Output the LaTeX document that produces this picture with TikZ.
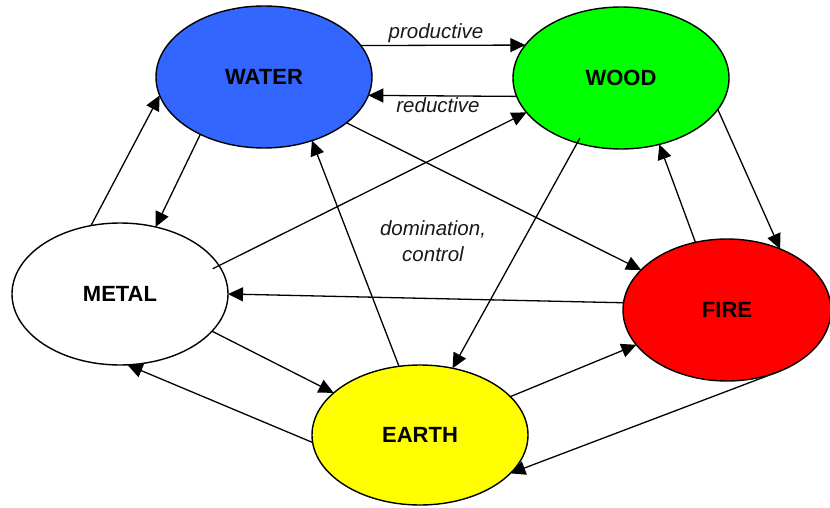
\documentclass[tikz,border=0pt]{standalone}
\usepackage{fontspec}
\setmainfont{Liberation Sans}
\usetikzlibrary{shapes.geometric,arrows.meta}
\definecolor{waterblue}{HTML}{3366FF}
\definecolor{woodgreen}{HTML}{00FF00}
\definecolor{firered}{HTML}{FF0000}
\definecolor{earthyellow}{HTML}{FFFF00}
\begin{document}
\begin{tikzpicture}[x=1pt,y=-1pt,
  elem/.style={ellipse, draw=black, line width=1.4pt, minimum width=216pt,
    minimum height=142pt, inner sep=0pt, outer sep=0pt,
    font=\fontsize{22}{26}\selectfont\bfseries},
  arr/.style={line width=1.3pt, -{Triangle[length=15pt,width=14pt]}},
  lbl/.style={font=\fontsize{20.5}{26}\selectfont\itshape, text=black!90, align=center}]
\useasboundingbox (0,0) rectangle (830,508);
\node[elem, fill=waterblue] (water) at (264,77) {WATER};
\node[elem, fill=woodgreen] (wood) at (621,78) {WOOD};
\node[elem, fill=white] (metal) at (120,294) {METAL};
\node[elem, fill=firered, minimum width=208pt] (fire) at (727,310) {FIRE};
\node[elem, fill=earthyellow, minimum height=140pt] (earth) at (420,435) {EARTH};

\node[lbl] (prod) at (436,33) {productive};
\node[lbl] (red) at (438,105) {reductive};
\node[lbl] (dom) at (433,241) {domination,\\control};

\draw[arr] (water.18) -- (wood.161);
\draw[arr] (wood.190) -- (water.-10);
\draw[arr] (water.-29) -- (fire.155);
\draw[arr, shorten <=-7pt] (metal.16) -- (wood.200);
\draw[arr, shorten <=-5.5pt] (wood.236.6) -- (earth.64);
\draw[arr] (earth.107.7) -- (water.-53);
\draw[arr] (water.222) -- (metal.62.8);
\draw[arr] (metal.113) -- (water.190.5);
\draw[arr] (fire.176) -- (metal.0);
\draw[arr] (metal.-22.8) -- (earth.154.8);
\draw[arr] (earth.184) -- (metal.276.3);
\draw[arr] (earth.23.5) -- (fire.201.5);
\draw[arr] (fire.-49.3) -- (earth.-23.4);
\draw[arr] (fire.115.2) -- (wood.-60.6);
\draw[arr] (wood.-18.9) -- (fire.49.5);
\end{tikzpicture}
\end{document}
